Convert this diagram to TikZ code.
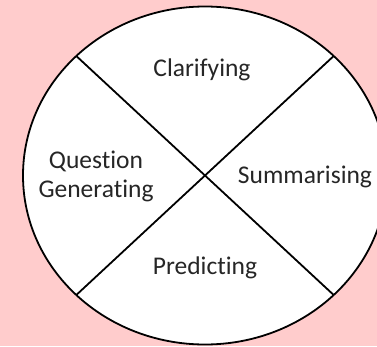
\documentclass[tikz,border=0pt]{standalone}
\usepackage{fontspec}
\setmainfont{Carlito}[Ligatures=NoCommon]
\usetikzlibrary{calc}
\definecolor{bgpink}{RGB}{255,204,204}
\tikzset{
  sector/.style={font=\fontsize{25.5}{29}\selectfont, text=black!85, align=center},
  divider/.style={line width=1.8pt}
}

\begin{document}
\begin{tikzpicture}[x=1pt,y=1pt]
\useasboundingbox (0,0) rectangle (377,346);
\fill[bgpink] (0,0) rectangle (377,346);
\clip (0,0) rectangle (377,346);
\coordinate (c) at (205,170.5);
\draw[divider,fill=white] (c) ellipse [x radius=182, y radius=169];
\coordinate (nw) at ($(c)+(-128.7,119.5)$);
\coordinate (ne) at ($(c)+(128.7,119.5)$);
\coordinate (sw) at ($(c)+(-128.7,-119.5)$);
\coordinate (se) at ($(c)+(128.7,-119.5)$);
\draw[divider] (nw) -- (se);
\draw[divider] (ne) -- (sw);
\node[sector] (clar) at (202,276) {Clarifying};
\node[sector] (quest) at (96,170) {Question\\Generating};
\node[sector] (summ) at (305,169) {Summarising};
\node[sector] (pred) at (205,78) {Predicting};
\end{tikzpicture}
\end{document}
